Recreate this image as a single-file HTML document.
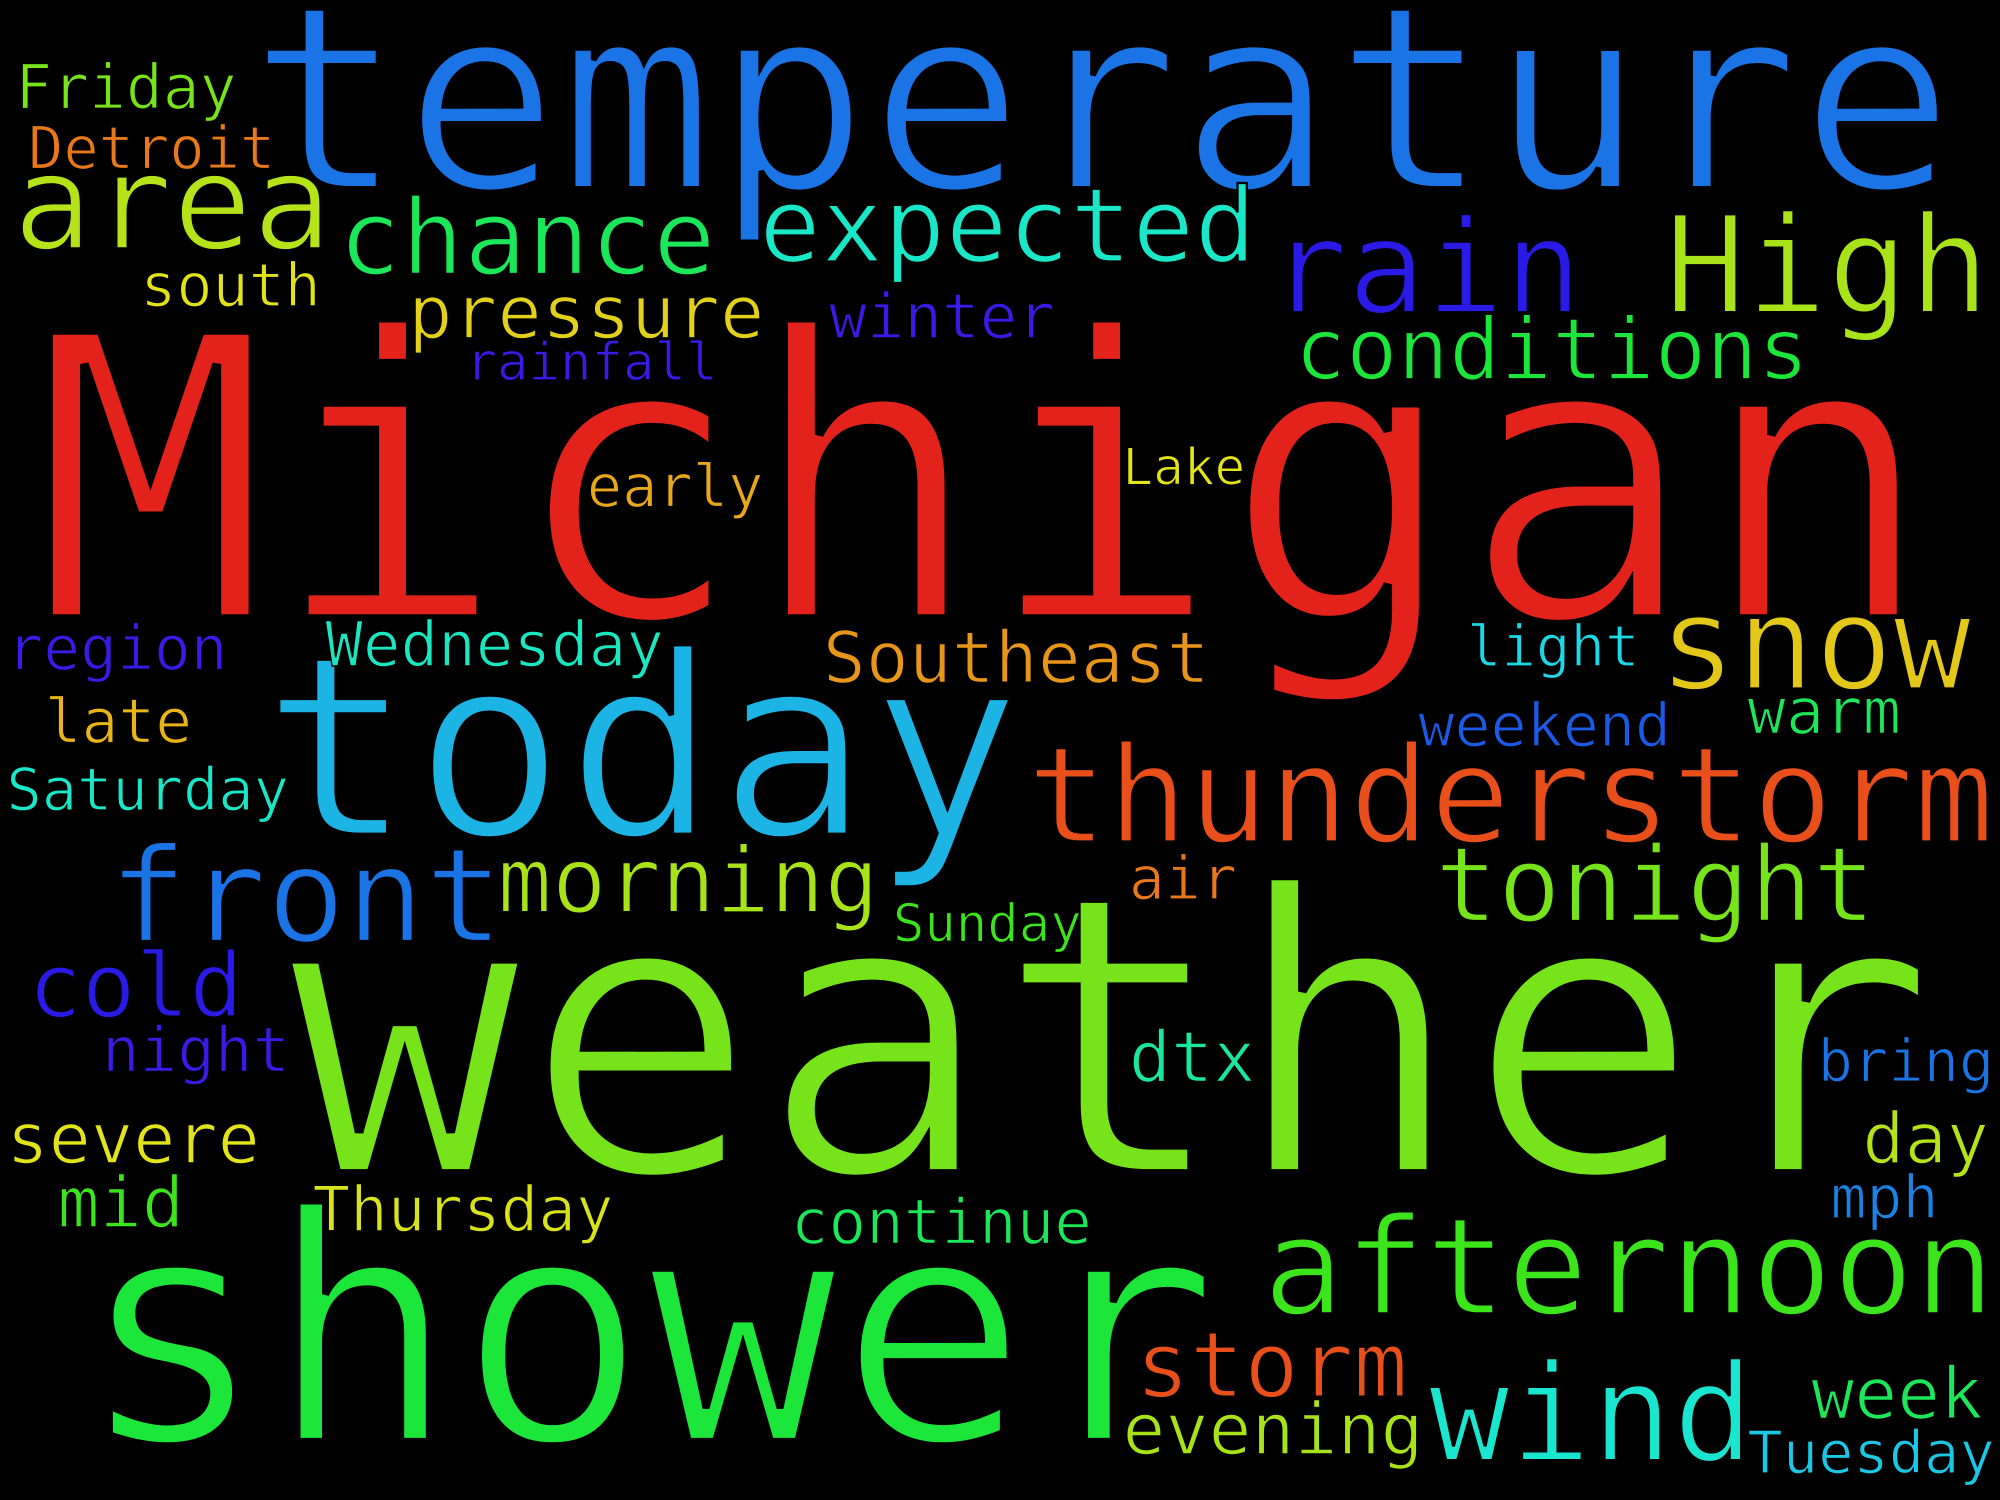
<!DOCTYPE html>
<html>
<head>
<meta charset="utf-8">
<style>
html,body{margin:0;padding:0;background:#000;}
svg{display:block;}
text{font-family:"DejaVu Sans Mono","Liberation Mono",monospace;}
</style>
</head>
<body>
<svg width="2000" height="1500" viewBox="0 0 1568 1176" xmlns="http://www.w3.org/2000/svg">
<rect x="0" y="0" width="1568" height="1176" fill="#000"/>
<g id="words"></g>
</svg>
<script>
const words = ["temperature","Michigan","weather","shower","today","thunderstorm","afternoon","wind","front","tonight","morning","snow","rain","High","area","chance","expected","conditions","pressure","Southeast","Wednesday","cold","storm","evening","continue","Thursday","severe","mid","night","dtx","bring","day","mph","week","Tuesday","warm","weekend","light","air","Sunday","Saturday","late","region","early","Lake","rainfall","winter","south","Friday","Detroit"];
const sizes = [202,310,307,248,198,105,106,106,103,82,71,102,102,106,104,82,81,67,58,56,49,70,71,56,49,49,55,55,49,55,46,55,47,56,46,50,47,45,47,41,46,48,48,46,40,41,49,47,48,46];
const xs = [195,25,225,60,205,805,990,1120,85,1125,390,1300,995,1305,10,265,595,1015,320,645,255,22,890,880,620,245,5,45,80,885,1425,1460,1435,1420,1370,1370,1112,1150,885,700,5,35,5,460,880,365,650,110,12,22];
const ys = [148,485,920,1130,655,660,1030,1145,738,722,715,540,245,245,195,215,205,297,265,535,522,797,1095,1140,975,965,912,962,840,848,848,912,955,1112,1155,575,585,522,705,738,635,582,525,397,380,298,265,240,85,132];
const colors = ["#1a74e6","#e3221c","#77e31a","#1ce63a","#1bb4e4","#e84f1a","#3ce41c","#1ae6d0","#1a74e6","#77e31a","#a8e31a","#e3c81a","#2a1ae6","#a8e31a","#b4e31a","#1ce65a","#1ae6c8","#1ce63a","#e3d01a","#e8961a","#1ae6c0","#2a1ae6","#e84f1a","#a8e31a","#1ce65a","#d8e31a","#e3e31a","#3ce41c","#3a1ae6","#1ae6a0","#1a74e6","#b4e31a","#1a84e6","#1ce65a","#1ac8e6","#1ce65a","#1a5ae6","#1ad8e6","#e8781a","#3ce41c","#1ae6c8","#e8b41a","#3a1ae6","#e8a81a","#e3e31a","#3a1ae6","#3a1ae6","#e3e31a","#77e31a","#e8781a"];
const g = document.getElementById('words');
const NS = "http://www.w3.org/2000/svg";
for (let i = 0; i < words.length; i++) {
  const t = document.createElementNS(NS, 'text');
  
  
  t.setAttribute('x', xs[i]);
  t.setAttribute('y', ys[i]);
  t.setAttribute('font-size', sizes[i]);
  t.setAttribute('fill', colors[i]);
  t.setAttribute('stroke', '#000');
  t.setAttribute('stroke-width', (sizes[i] * 0.022).toFixed(2));
  t.setAttribute('textLength', (words[i].length * 0.602 * sizes[i]).toFixed(1));
  t.setAttribute('lengthAdjust', 'spacingAndGlyphs');
  t.textContent = words[i];
  g.appendChild(t);
}
</script>
</body>
</html>
